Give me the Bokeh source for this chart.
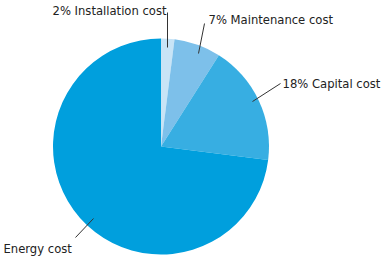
import math
from bokeh.plotting import figure
from bokeh.models import Range1d, ColumnDataSource
from bokeh.core.properties import value
from bokeh.embed import file_html
from bokeh.resources import INLINE

categories = ["Installation cost", "Maintenance cost", "Capital cost", "Energy cost"]
shares = [2, 7, 18, 73]
labels = ["2% Installation cost", "7% Maintenance cost", "18% Capital cost", "Energy cost"]
colors = ["#C8E4F6", "#7DC0EA", "#37AEE2", "#009FDD"]

W, H = 386, 256
p = figure(width=W, height=H, output_backend="svg", toolbar_location=None,
           x_range=Range1d(0, W), y_range=Range1d(0, H), min_border=0)
p.axis.visible = False
p.grid.visible = False
p.outline_line_color = None
p.background_fill_color = "white"
p.border_fill_color = "white"

cx, cy, r = 160.5, H - 146, 108
total = float(sum(shares))
starts, ends = [], []
cum = 0.0
for s in shares:
    starts.append(math.pi / 2 - 2 * math.pi * cum / total)
    cum += s
    ends.append(math.pi / 2 - 2 * math.pi * cum / total)

src = ColumnDataSource(dict(start=starts, end=ends, color=colors, cat=categories))
p.wedge(x=cx, y=cy, radius=r, start_angle="start", end_angle="end", direction="clock",
        fill_color="color", line_color=None, source=src)

# leader lines (y measured from top, converted)
lx0 = [167, 204, 280, 93]
ly0 = [12, 23, 83, 218]
lx1 = [167, 198, 252, 75]
ly1 = [47, 53, 101, 237]
p.segment(x0=lx0, y0=[H - v for v in ly0], x1=lx1, y1=[H - v for v in ly1],
          line_color="#333333", line_width=1)

tx = [52, 208, 282, 3]
ty = [10.5, 19.5, 83, 248]
p.text(x=tx, y=[H - v for v in ty], text=labels, text_font=value("DejaVu Sans"),
       text_font_size="11.6px", text_color="#222222", text_baseline="alphabetic",
       text_align="left")

open("out.html", "w").write(file_html(p, INLINE))
